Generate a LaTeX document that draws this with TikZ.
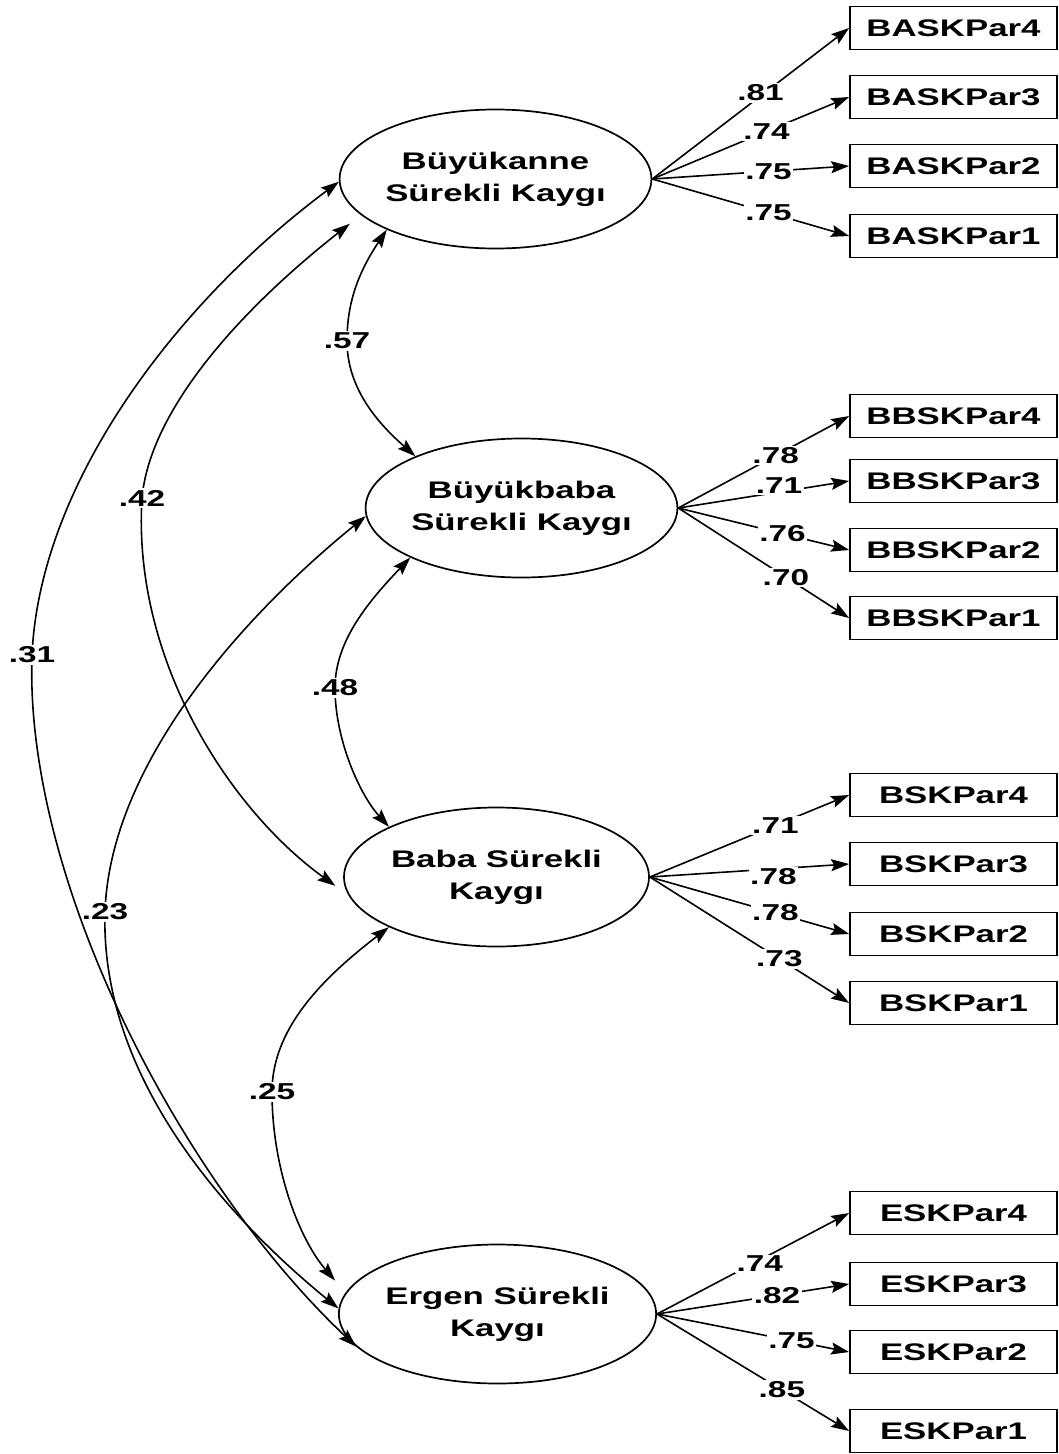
\documentclass[tikz,border=0pt]{standalone}
\usepackage{fontspec}
\setmainfont{Liberation Sans}[FakeStretch=1.45]
\usetikzlibrary{shapes.geometric, arrows.meta}
\begin{document}
\begin{tikzpicture}[x=1pt,y=-1pt,
  lat/.style={ellipse, draw, line width=1.7pt, minimum width=305pt, minimum height=139pt, inner sep=0pt, align=center, font=\bfseries\fontsize{24}{32}\selectfont},
  obs/.style={rectangle, draw, line width=1.7pt, minimum width=207pt, minimum height=43pt, inner sep=0pt, font=\bfseries\fontsize{24}{28}\selectfont},
  tipx/.tip={Stealth[length=18pt,width=12pt,inset=3pt]},
  load/.style={-tipx, line width=1.6pt},
  cov/.style={tipx-tipx, line width=1.6pt},
  lbl/.style={fill=white, inner sep=1.5pt, font=\bfseries\fontsize{23}{24}\selectfont}]
\fill[white] (0,0) rectangle (1059,1454);
\useasboundingbox (0,0) rectangle (1059,1454);

% latent variables
\node[lat] (E1) at (495.5,179) {Büyükanne\\Sürekli Kaygı};
\node[lat] (E2) at (521.5,508) {Büyükbaba\\Sürekli Kaygı};
\node[lat] (E3) at (496.5,877) {Baba Sürekli\\Kaygı};
\node[lat] (E4) at (497.5,1314) {Ergen Sürekli\\Kaygı};

% indicators
\node[obs] (A4) at (953.5,28) {BASKPar4};
\node[obs] (A3) at (953.5,97) {BASKPar3};
\node[obs] (A2) at (953.5,166) {BASKPar2};
\node[obs] (A1) at (953.5,236) {BASKPar1};
\node[obs] (B4) at (953.5,416) {BBSKPar4};
\node[obs] (B3) at (953.5,481) {BBSKPar3};
\node[obs] (B2) at (953.5,550) {BBSKPar2};
\node[obs] (B1) at (953.5,618) {BBSKPar1};
\node[obs] (C4) at (953.5,795) {BSKPar4};
\node[obs] (C3) at (953.5,864) {BSKPar3};
\node[obs] (C2) at (953.5,934) {BSKPar2};
\node[obs] (C1) at (953.5,1003) {BSKPar1};
\node[obs] (D4) at (953.5,1213) {ESKPar4};
\node[obs] (D3) at (953.5,1284) {ESKPar3};
\node[obs] (D2) at (953.5,1352) {ESKPar2};
\node[obs] (D1) at (953.5,1431) {ESKPar1};

% loadings
\draw[load] (E1.east) -- node[lbl, pos=.55, yshift=3pt] {.81} (A4.west);
\draw[load] (E1.east) -- node[lbl, pos=.58] {.74} (A3.west);
\draw[load] (E1.east) -- node[lbl, pos=.59] {.75} (A2.west);
\draw[load] (E1.east) -- node[lbl, pos=.59] {.75} (A1.west);

\draw[load] (E2.east) -- node[lbl, pos=.57] {.78} (B4.west);
\draw[load] (E2.east) -- node[lbl, pos=.59, yshift=6pt] {.71} (B3.west);
\draw[load] (E2.east) -- node[lbl, pos=.61] {.76} (B2.west);
\draw[load] (E2.east) -- node[lbl, pos=.63] {.70} (B1.west);

\draw[load] (E3.east) -- node[lbl, pos=.63] {.71} (C4.west);
\draw[load] (E3.east) -- node[lbl, pos=.62, yshift=-8pt] {.78} (C3.west);
\draw[load] (E3.east) -- node[lbl, pos=.63] {.78} (C2.west);
\draw[load] (E3.east) -- node[lbl, pos=.65] {.73} (C1.west);

\draw[load] (E4.east) -- node[lbl, pos=.535, yshift=-4pt] {.74} (D4.west);
\draw[load] (E4.east) -- node[lbl, pos=.625] {.82} (D3.west);
\draw[load] (E4.east) -- node[lbl, pos=.70] {.75} (D2.west);
\draw[load] (E4.east) -- node[lbl, pos=.65] {.85} (D1.west);

% covariances
\draw[cov] (E1.205) .. controls (360,270) and (347,300) .. (347,341) node[lbl] {.57}
  .. controls (347,390) and (380,425) .. (E2.154);
\draw[cov] (E2.204) .. controls (370,600) and (335,640) .. (335,688) node[lbl] {.48}
  .. controls (335,740) and (360,795) .. (E3.155);
\draw[cov, shorten >=16pt] (E3.205) .. controls (320,980) and (272,1030) .. (272,1092) node[lbl] {.25}
  .. controls (272,1170) and (300,1240) .. (E4.172);
\draw[cov, shorten <=14pt, shorten >=16pt] (E1.195) .. controls (240,310) and (150,410) .. (142,498) node[lbl] {.42}
  .. controls (132,660) and (230,810) .. (E3.187);
\draw[cov] (E2.183) .. controls (250,610) and (110,760) .. (105,912) node[lbl] {.23}
  .. controls (100,1080) and (230,1220) .. (E4.178);
\draw[cov] (E1.181) .. controls (180,300) and (40,480) .. (32,655) node[lbl] {.31}
  .. controls (24,880) and (180,1180) .. (E4.193);
\end{tikzpicture}
\end{document}
